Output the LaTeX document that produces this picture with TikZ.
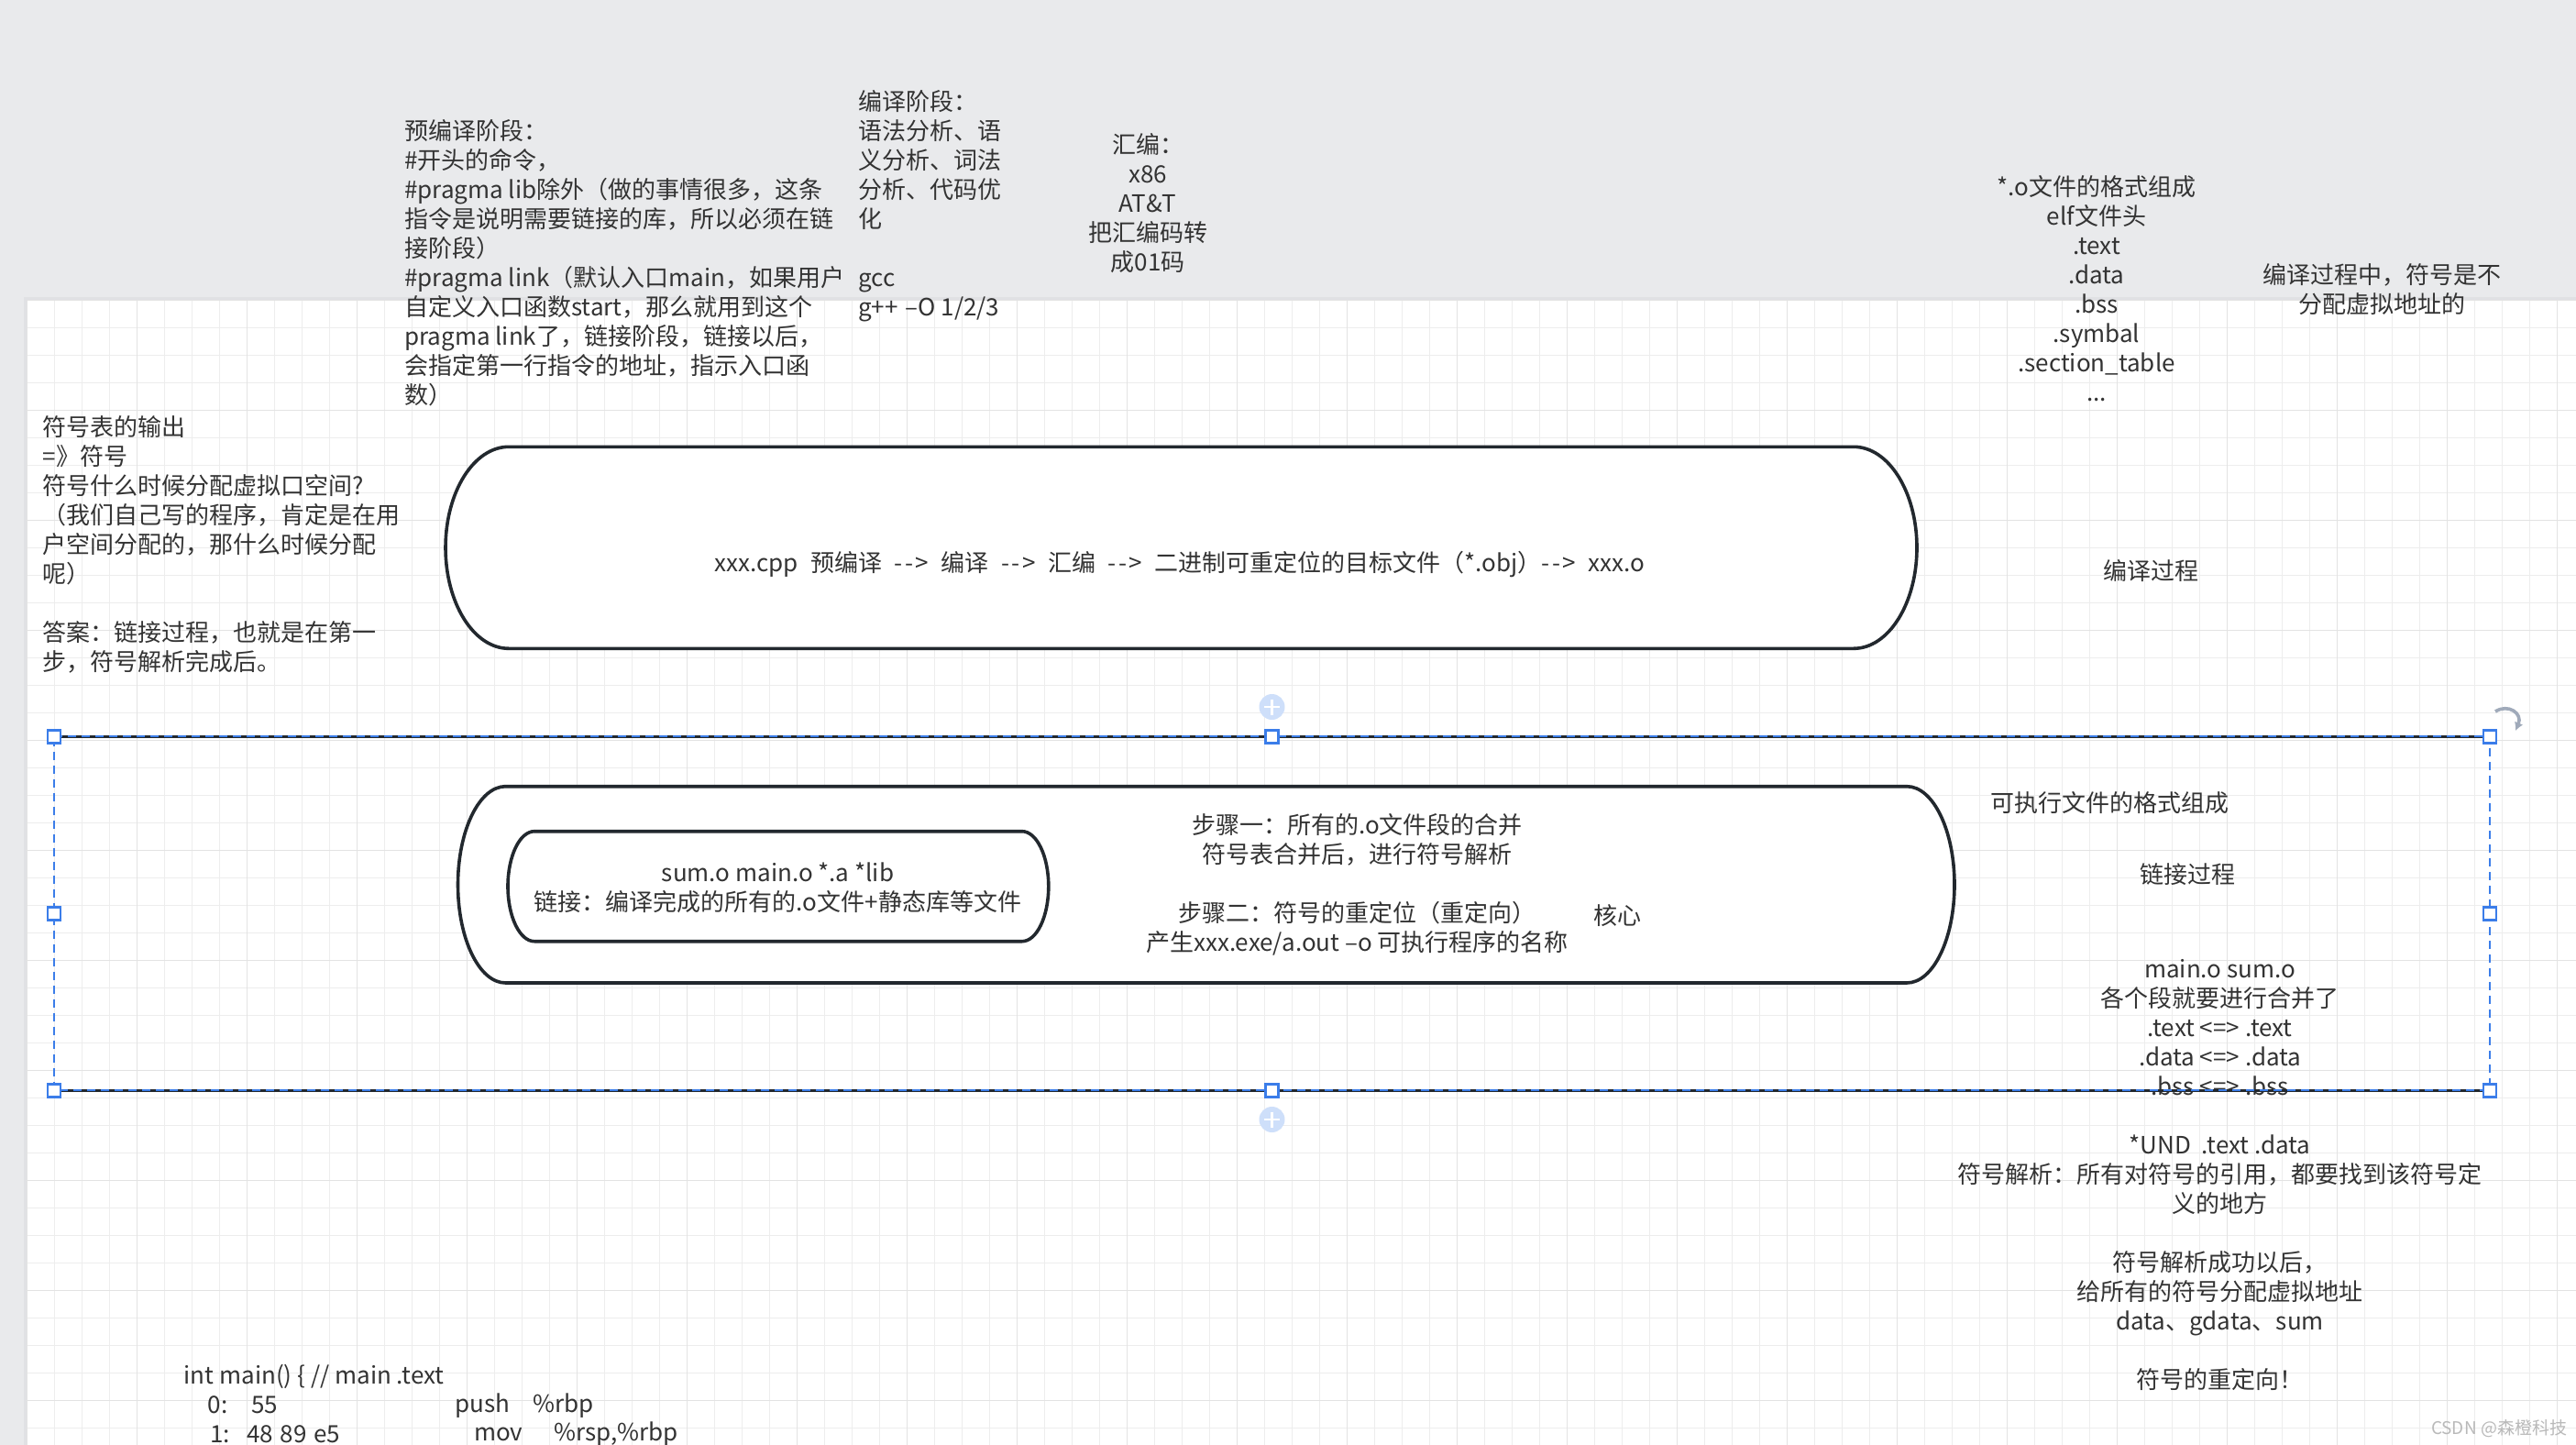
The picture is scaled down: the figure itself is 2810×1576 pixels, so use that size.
\documentclass[tikz,border=0pt]{standalone}
\usepackage{fontspec}
\setmainfont{Noto Sans CJK SC}
\usetikzlibrary{arrows.meta}
\definecolor{bgc}{RGB}{233,234,236}
\definecolor{shadowc}{RGB}{224,225,228}
\definecolor{gminc}{RGB}{237,237,237}
\definecolor{gmajc}{RGB}{227,227,227}
\definecolor{txtc}{RGB}{51,51,51}
\definecolor{boxc}{RGB}{34,40,46}
\definecolor{selblue}{RGB}{59,125,233}
\definecolor{plusc}{RGB}{206,223,250}
\definecolor{rotc}{RGB}{160,170,186}
\definecolor{wmc}{RGB}{185,185,185}
\begin{document}
\begin{tikzpicture}[x=1pt,y=-1pt,
  txt/.style={text=txtc,font=\fontsize{26}{32}\selectfont,inner sep=0pt,
    execute at begin node=\strut,execute at end node=\strut},
  codetxt/.style={text=txtc,font=\fontsize{26}{32}\selectfont,inner sep=0pt,anchor=west},
  boxline/.style={draw=boxc,line width=3.6,fill=white},
  gminor/.style={draw=gminc,line width=1.8},
  gmajor/.style={draw=gmajc,line width=1.8},
  seldash/.style={draw=selblue,line width=2.2,dash pattern=on 9pt off 6pt},
  handle/.style={draw=selblue,fill=white,line width=2.5,minimum size=14pt,inner sep=0pt,rectangle},
  pluscirc/.style={circle,fill=plusc,minimum size=28pt,inner sep=0pt}]
\useasboundingbox (0,0) rectangle (2810,1576);
% background and paper
\fill[bgc] (0,0) rectangle (2810,1576);
\fill[shadowc] (26,324) rectangle (2810,1576);
\fill[white] (29.5,327.5) rectangle (2810,1576);
% grid
\foreach \k in {0,...,92} \draw[gminor] ({29.5+30*\k},327.5) -- ({29.5+30*\k},1576);
\foreach \k in {0,...,41} \draw[gminor] (29.5,{327.5+30*\k}) -- (2810,{327.5+30*\k});
\foreach \k in {0,...,23} \draw[gmajor] ({29.5+120*\k},327.5) -- ({29.5+120*\k},1576);
\foreach \k in {0,...,10} \draw[gmajor] (29.5,{327.5+120*\k}) -- (2810,{327.5+120*\k});

% top texts
\node[txt,align=left,anchor=west] (pre) at (441,290.5) {预编译阶段：\\
\#开头的命令，\\
\#pragma lib除外（做的事情很多，这条\\
指令是说明需要链接的库，所以必须在链\\
接阶段）\\
\#pragma link（默认入口main，如果用户\\
自定义入口函数start，那么就用到这个\\
pragma link了，链接阶段，链接以后，\\
会指定第一行指令的地址，指示入口函\\
数）};
\node[txt,align=left,anchor=west] (comp) at (936,226.7) {编译阶段：\\
语法分析、语\\
义分析、词法\\
分析、代码优\\
化\\[32pt]
gcc\\
g++\kern2pt{} –O 1/2/3};
\node[txt,align=center] (asm) at (1252,225.5) {汇编：\\
x86\\
AT\&T\\
把汇编码转\\
成01码};
\node[txt,align=center] (ofmt) at (2287,319) {*.o文件的格式组成\\
elf文件头\\
.text\\
.data\\
.bss\\
.symbal\\
.section\_table\\
...};
\node[txt,align=center] (novaddr) at (2598,319.3) {编译过程中，符号是不\\
分配虚拟地址的};
\node[txt,align=left,anchor=west] (symq) at (46.7,597.7) {符号表的输出\\
=》符号\\
符号什么时候分配虚拟口空间?\\
（我们自己写的程序，肯定是在用\\
户空间分配的，那什么时候分配\\
呢）\\[32pt]
答案：链接过程，也就是在第一\\
步，符号解析完成后。};

% top box (compile)
\draw[boxline] (555,487.3) -- (2022,487.3)
  arc[start angle=-90,end angle=90,x radius=69,y radius=110]
  -- (555,707.3)
  arc[start angle=90,end angle=270,x radius=69,y radius=110] -- cycle;
\node[txt] (ctext) at (1287,617.5) {\spaceskip=13.5pt xxx.cpp 预编译 -\kern2.5pt-\kern2.5pt> 编译 -\kern2.5pt-\kern2.5pt> 汇编 -\kern2.5pt-\kern2.5pt> 二进制可重定位的目标文件（*.obj）-\kern2.5pt-\kern2.5pt> xxx.o};
\node[txt] (clabel) at (2346,626) {编译过程};

% selection frame
\coordinate (tl) at (59,803.3);
\coordinate (tm) at (1387.5,803.3);
\coordinate (tr) at (2716,803.3);
\coordinate (ml) at (59,996.3);
\coordinate (mr) at (2716,996.3);
\coordinate (bl) at (59,1189.3);
\coordinate (bm) at (1387.5,1189.3);
\coordinate (br) at (2716,1189.3);

% lower box (link)
\draw[boxline] (551.5,857.7) -- (2080,857.7)
  arc[start angle=-90,end angle=90,x radius=52,y radius=107.15]
  -- (551.5,1072)
  arc[start angle=90,end angle=270,x radius=52,y radius=107.15] -- cycle;
\draw[boxline] (583,906.7) -- (1114.8,906.7)
  arc[start angle=-90,end angle=90,x radius=29,y radius=60]
  -- (583,1026.7)
  arc[start angle=90,end angle=270,x radius=29,y radius=60] -- cycle;
\node[txt,align=center] (inner) at (848.5,971.8) {sum.o main.o *.a *lib\\
链接：编译完成的所有的.o文件+静态库等文件};
\node[txt,align=center] (steps) at (1480.5,967) {步骤一：所有的.o文件段的合并\\
符号表合并后，进行符号解析\\[32pt]
步骤二：符号的重定位（重定向）\hspace*{14pt}\\
产生xxx.exe/a.out –o 可执行程序的名称};
\node[txt] (core) at (1764,1002) {核心};

% right texts
\node[txt] (exefmt) at (2301,879) {可执行文件的格式组成};
\node[txt] (llabel) at (2386,957) {链接过程};
\node[txt,align=center] (merge) at (2421.6,1285.5) {main.o sum.o\\
各个段就要进行合并了\\
.text <=> .text\\
.data <=> .data\\
.bss <=> .bss\\[32pt]
*UND\ \ .text .data\\
符号解析：所有对符号的引用，都要找到该符号定\\
义的地方\\[32pt]
符号解析成功以后，\\
给所有的符号分配虚拟地址\\
data、gdata、sum\\[32pt]
符号的重定向！};

% selection lines and frame
\draw[draw=boxc,line width=3.6] (tl) -- (tr);
\draw[draw=boxc,line width=3.6] (bl) -- (br);
\draw[seldash] (tl) -- (tr) -- (br) -- (bl) -- cycle;
\node[handle] (h1) at (tl) {};
\node[handle] (h2) at (tm) {};
\node[handle] (h3) at (tr) {};
\node[handle] (h4) at (ml) {};
\node[handle] (h5) at (mr) {};
\node[handle] (h6) at (bl) {};
\node[handle] (h7) at (bm) {};
\node[handle] (h8) at (br) {};
\node[pluscirc] (add1) at (1387.5,771) {};
\node[pluscirc] (add2) at (1387.5,1221) {};
\draw[white,line width=2.6] (1379,771) -- (1396,771) (1387.5,762.5) -- (1387.5,779.5);
\draw[white,line width=2.6] (1379,1221) -- (1396,1221) (1387.5,1212.5) -- (1387.5,1229.5);
\draw[rotc,line width=3.6,-{Latex[length=9pt,width=10pt]}] (2722,776) .. controls (2736,767) and (2752,778) .. (2744,797);

% code
\node[codetxt] (c0) at (200.6,1501) {int main() \{ // main .text};
\node[codetxt] (c1a) at (226.7,1532.7) {0:};
\node[codetxt] (c1b) at (274,1532.7) {55};
\node[codetxt] (c1c) at (496,1532.7) {push};
\node[codetxt] (c1d) at (581,1532.7) {\%rbp};
\node[codetxt] (c2a) at (228.8,1564) {1:};
\node[codetxt] (c2b) at (269,1564) {48\kern2pt{} 89\kern2pt{} e5};
\node[codetxt] (c2c) at (517,1564) {mov};
\node[codetxt] (c2d) at (604,1564) {\%rsp,\%rbp};

% watermark
\node[text=wmc,font=\fontsize{19}{22}\selectfont,inner sep=0pt] (wm) at (2726,1558) {CSDN @森橙科技};
\end{tikzpicture}
\end{document}
